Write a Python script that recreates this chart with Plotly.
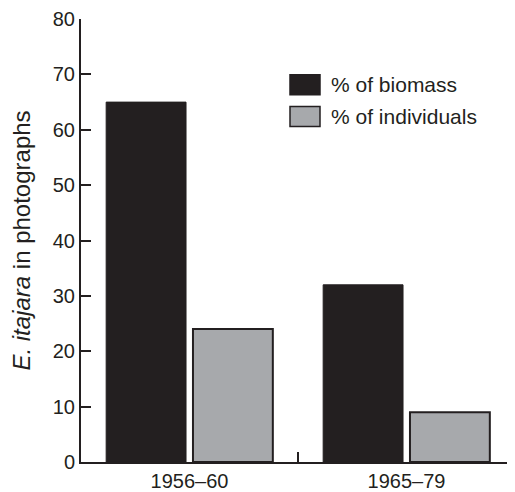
import plotly.graph_objects as go

periods = ["1956\u201360", "1965\u201379"]
biomass = [65, 32]
individuals = [24, 9]
series_names = ["% of biomass", "% of individuals"]
y_ticks = [0, 10, 20, 30, 40, 50, 60, 70, 80]

DARK = "#231f20"
GRAY = "#a7a9ac"
FONT = "Liberation Sans, Arial, sans-serif"

# page body has an 8px default margin; compensate so the figure fills 515x492
OFF = 8
W, H = 515 - OFF, 492 - OFF
L, R, T, B = 81 - OFF, 0, 17 - OFF, 30
pw, ph = W - L - R, H - T - B

def px_x(x):
    return (x - OFF - L) / pw

def px_y(y):
    return (H - B - (y - OFF)) / ph

fig = go.Figure()
fig.add_trace(go.Bar(x=periods, y=biomass, name=series_names[0],
                     marker=dict(color=DARK, line=dict(color=DARK, width=1)),
                     showlegend=False))
fig.add_trace(go.Bar(x=periods, y=individuals, name=series_names[1],
                     marker=dict(color=GRAY, line=dict(color=DARK, width=2)),
                     showlegend=False))

shapes = []
annotations = []
legend_rows = [(73, 93, DARK), (105, 125, GRAY)]
for (y0, y1, col), name in zip(legend_rows, series_names):
    shapes.append(dict(type="rect", xref="paper", yref="paper",
                       x0=px_x(290), x1=px_x(320), y0=px_y(y1), y1=px_y(y0),
                       fillcolor=col, line=dict(color=DARK, width=1.5)))
    annotations.append(dict(xref="paper", yref="paper", x=px_x(329),
                            y=px_y((y0 + y1) / 2), text=name, showarrow=False,
                            xanchor="left", yanchor="middle",
                            font=dict(family=FONT, size=21, color=DARK)))

fig.update_layout(
    width=W, height=H,
    margin=dict(l=L, r=R, t=T, b=B, pad=0),
    plot_bgcolor="white", paper_bgcolor="white",
    barmode="group", bargap=0.2, bargroupgap=0.08,
    font=dict(family=FONT, size=20, color=DARK),
    shapes=shapes, annotations=annotations,
    xaxis=dict(type="category", range=[-0.5, 1.5], showline=True,
               linecolor=DARK, linewidth=2, ticks="inside", ticklen=10,
               tickwidth=2, tickcolor=DARK, tickson="boundaries",
               showgrid=False, zeroline=False, ticklabeloverflow="allow",
               tickfont=dict(family=FONT, size=20, color=DARK)),
    yaxis=dict(range=[0, 80.01], tickvals=y_ticks, showline=True,
               linecolor=DARK, linewidth=2, ticks="inside", ticklen=10,
               tickwidth=2, tickcolor=DARK, showgrid=False, zeroline=False,
               ticklabeloverflow="allow",
               tickfont=dict(family=FONT, size=20, color=DARK),
               title=dict(text="<i>E. itajara</i> in photographs",
                          font=dict(family=FONT, size=24, color=DARK),
                          standoff=16)),
)

fig.write_html("out.html")
